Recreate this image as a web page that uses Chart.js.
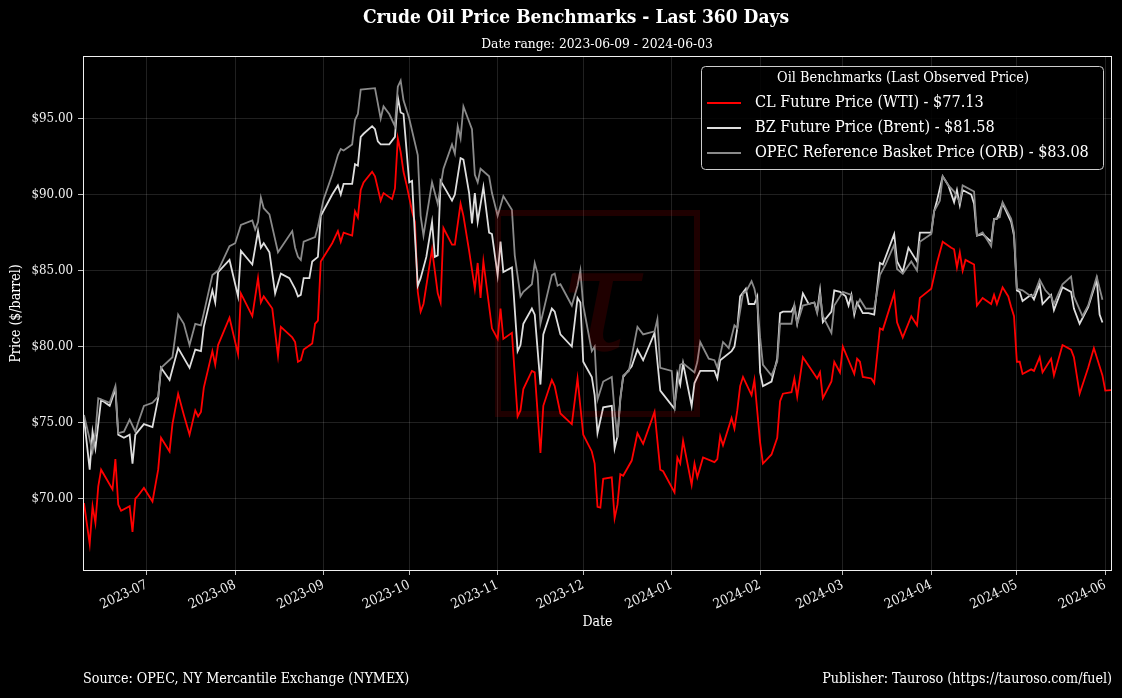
<!DOCTYPE html>
<html>
<head>
<meta charset="utf-8">
<title>Crude Oil Price Benchmarks</title>
<script src="https://cdn.jsdelivr.net/npm/chart.js@4.4.1/dist/chart.umd.min.js"></script>
<style>
  html, body { margin: 0; padding: 0; background: #000; }
  #wrap { width: 1122px; height: 698px; }
</style>
</head>
<body>
<div id="wrap"><canvas id="oilChart" width="1122" height="698"></canvas></div>
<script>
// Chart data
const startDate = '2023-06-09';
const endDate = '2024-06-03';
const xTickLabels = ['2023-07', '2023-08', '2023-09', '2023-10', '2023-11', '2023-12',
                     '2024-01', '2024-02', '2024-03', '2024-04', '2024-05', '2024-06'];
const yTicks = [70, 75, 80, 85, 90, 95];

// WTI (CL) settle prices, [date, $/barrel]
const clSeries = [
    ['2023-06-09', 69.7], ['2023-06-11', 67.0], ['2023-06-12', 69.5], ['2023-06-13', 68.4], ['2023-06-14', 70.8],
    ['2023-06-15', 71.9], ['2023-06-19', 70.6], ['2023-06-20', 72.6], ['2023-06-21', 69.6], ['2023-06-22', 69.2],
    ['2023-06-25', 69.5], ['2023-06-26', 67.8], ['2023-06-27', 70.0], ['2023-06-28', 70.2], ['2023-06-30', 70.7],
    ['2023-07-03', 69.8], ['2023-07-05', 71.9], ['2023-07-06', 74.0], ['2023-07-09', 73.1], ['2023-07-10', 74.9],
    ['2023-07-12', 76.9], ['2023-07-14', 75.5], ['2023-07-16', 74.2], ['2023-07-18', 75.8], ['2023-07-19', 75.4],
    ['2023-07-20', 75.7], ['2023-07-21', 77.3], ['2023-07-24', 79.7], ['2023-07-25', 78.8], ['2023-07-26', 80.1],
    ['2023-07-30', 81.9], ['2023-08-02', 79.5], ['2023-08-03', 83.5], ['2023-08-07', 82.0], ['2023-08-09', 84.5],
    ['2023-08-10', 82.9], ['2023-08-11', 83.3], ['2023-08-14', 82.5], ['2023-08-16', 79.4], ['2023-08-17', 81.3],
    ['2023-08-21', 80.6], ['2023-08-22', 80.3], ['2023-08-23', 79.0], ['2023-08-24', 79.1], ['2023-08-25', 79.8],
    ['2023-08-28', 80.2], ['2023-08-29', 81.5], ['2023-08-30', 81.7], ['2023-08-31', 85.6], ['2023-09-04', 86.8],
    ['2023-09-06', 87.6], ['2023-09-07', 86.9], ['2023-09-08', 87.5], ['2023-09-11', 87.3], ['2023-09-12', 88.9],
    ['2023-09-13', 88.5], ['2023-09-14', 90.3], ['2023-09-15', 90.8], ['2023-09-18', 91.5], ['2023-09-19', 91.2],
    ['2023-09-21', 89.6], ['2023-09-22', 90.1], ['2023-09-25', 89.7], ['2023-09-26', 90.4], ['2023-09-27', 93.7],
    ['2023-09-28', 92.8], ['2023-09-29', 91.5], ['2023-09-30', 90.7], ['2023-10-02', 88.9], ['2023-10-03', 88.2],
    ['2023-10-04', 83.6], ['2023-10-05', 82.3], ['2023-10-06', 82.8], ['2023-10-09', 86.4], ['2023-10-11', 83.5],
    ['2023-10-12', 82.9], ['2023-10-13', 87.8], ['2023-10-16', 86.7], ['2023-10-17', 86.7], ['2023-10-19', 89.4],
    ['2023-10-20', 88.6], ['2023-10-22', 86.3], ['2023-10-24', 83.8], ['2023-10-25', 85.5], ['2023-10-26', 83.2],
    ['2023-10-27', 85.6], ['2023-10-30', 81.2], ['2023-11-01', 80.5], ['2023-11-02', 82.5], ['2023-11-03', 80.5],
    ['2023-11-06', 80.9], ['2023-11-08', 75.4], ['2023-11-09', 75.8], ['2023-11-10', 77.2], ['2023-11-13', 78.4],
    ['2023-11-14', 78.3], ['2023-11-16', 73.0], ['2023-11-17', 76.1], ['2023-11-20', 77.8], ['2023-11-21', 77.4],
    ['2023-11-23', 75.6], ['2023-11-27', 74.9], ['2023-11-29', 77.9], ['2023-12-01', 74.2], ['2023-12-04', 73.1],
    ['2023-12-05', 72.3], ['2023-12-06', 69.45], ['2023-12-07', 69.4], ['2023-12-08', 71.3], ['2023-12-11', 71.4],
    ['2023-12-12', 68.7], ['2023-12-13', 69.6], ['2023-12-14', 71.6], ['2023-12-15', 71.5], ['2023-12-18', 72.5],
    ['2023-12-20', 74.3], ['2023-12-22', 73.6], ['2023-12-26', 75.7], ['2023-12-28', 71.9], ['2023-12-29', 71.8],
    ['2024-01-02', 70.4], ['2024-01-03', 72.7], ['2024-01-04', 72.3], ['2024-01-05', 73.8], ['2024-01-08', 70.9],
    ['2024-01-09', 72.3], ['2024-01-10', 71.4], ['2024-01-12', 72.7], ['2024-01-16', 72.4], ['2024-01-17', 72.6],
    ['2024-01-18', 74.1], ['2024-01-19', 73.5], ['2024-01-22', 75.3], ['2024-01-23', 74.6], ['2024-01-24', 75.8],
    ['2024-01-25', 77.4], ['2024-01-26', 78.0], ['2024-01-29', 76.8], ['2024-01-30', 77.8], ['2024-02-01', 73.7],
    ['2024-02-02', 72.3], ['2024-02-05', 72.9], ['2024-02-07', 74.0], ['2024-02-08', 76.4], ['2024-02-09', 76.9],
    ['2024-02-12', 77.0], ['2024-02-13', 77.9], ['2024-02-14', 76.7], ['2024-02-16', 79.3], ['2024-02-21', 77.9],
    ['2024-02-22', 78.3], ['2024-02-23', 76.6], ['2024-02-26', 77.7], ['2024-02-27', 79.0], ['2024-02-29', 78.3],
    ['2024-03-01', 80.0], ['2024-03-03', 79.1], ['2024-03-05', 78.2], ['2024-03-06', 79.2], ['2024-03-07', 79.0],
    ['2024-03-08', 78.0], ['2024-03-11', 77.9], ['2024-03-12', 77.6], ['2024-03-14', 81.2], ['2024-03-15', 81.1],
    ['2024-03-19', 83.5], ['2024-03-20', 81.6], ['2024-03-22', 80.6], ['2024-03-25', 82.0], ['2024-03-27', 81.4],
    ['2024-03-28', 83.2], ['2024-04-01', 83.8], ['2024-04-03', 85.5], ['2024-04-05', 86.9], ['2024-04-08', 86.5],
    ['2024-04-09', 86.4], ['2024-04-10', 85.2], ['2024-04-11', 86.2], ['2024-04-12', 85.0], ['2024-04-13', 85.7],
    ['2024-04-16', 85.4], ['2024-04-17', 82.7], ['2024-04-19', 83.2], ['2024-04-22', 82.8], ['2024-04-23', 83.4],
    ['2024-04-24', 82.8], ['2024-04-26', 83.9], ['2024-04-28', 83.3], ['2024-04-29', 82.6], ['2024-04-30', 82.0],
    ['2024-05-01', 79.0], ['2024-05-02', 79.0], ['2024-05-03', 78.2], ['2024-05-06', 78.5], ['2024-05-07', 78.4],
    ['2024-05-09', 79.3], ['2024-05-10', 78.3], ['2024-05-13', 79.2], ['2024-05-14', 78.1], ['2024-05-17', 80.1],
    ['2024-05-20', 79.8], ['2024-05-21', 79.3], ['2024-05-23', 76.9], ['2024-05-26', 78.6], ['2024-05-28', 79.9],
    ['2024-05-31', 78.1], ['2024-06-01', 77.1], ['2024-06-03', 77.13]
];

// Brent (BZ) settle prices
const bzSeries = [
    ['2023-06-09', 75.3], ['2023-06-11', 71.9], ['2023-06-12', 74.4], ['2023-06-13', 73.3], ['2023-06-14', 74.9],
    ['2023-06-15', 76.5], ['2023-06-18', 76.1], ['2023-06-20', 77.2], ['2023-06-21', 74.2], ['2023-06-23', 74.0],
    ['2023-06-25', 74.2], ['2023-06-26', 72.3], ['2023-06-27', 74.2], ['2023-06-30', 74.9], ['2023-07-03', 74.7],
    ['2023-07-05', 76.6], ['2023-07-06', 78.6], ['2023-07-09', 77.8], ['2023-07-12', 79.9], ['2023-07-16', 78.6],
    ['2023-07-18', 79.8], ['2023-07-20', 79.7], ['2023-07-21', 81.3], ['2023-07-24', 83.7], ['2023-07-25', 82.9],
    ['2023-07-26', 84.9], ['2023-07-30', 85.7], ['2023-08-02', 83.3], ['2023-08-03', 86.3], ['2023-08-07', 85.4],
    ['2023-08-09', 87.6], ['2023-08-10', 86.5], ['2023-08-11', 86.8], ['2023-08-13', 86.2], ['2023-08-15', 83.5],
    ['2023-08-17', 84.8], ['2023-08-20', 84.5], ['2023-08-22', 83.8], ['2023-08-23', 83.3], ['2023-08-24', 83.4],
    ['2023-08-25', 84.5], ['2023-08-27', 84.5], ['2023-08-28', 85.6], ['2023-08-30', 85.9], ['2023-08-31', 88.6],
    ['2023-09-04', 90.0], ['2023-09-06', 90.6], ['2023-09-07', 90.0], ['2023-09-08', 90.7], ['2023-09-11', 90.7],
    ['2023-09-12', 92.0], ['2023-09-13', 91.9], ['2023-09-14', 93.8], ['2023-09-15', 94.0], ['2023-09-18', 94.5],
    ['2023-09-19', 94.3], ['2023-09-20', 93.5], ['2023-09-21', 93.3], ['2023-09-24', 93.3], ['2023-09-26', 93.8],
    ['2023-09-27', 96.4], ['2023-09-28', 95.4], ['2023-09-29', 95.3], ['2023-10-01', 90.8], ['2023-10-02', 90.9],
    ['2023-10-03', 87.3], ['2023-10-04', 84.0], ['2023-10-05', 84.5], ['2023-10-07', 85.9], ['2023-10-09', 88.2],
    ['2023-10-10', 85.9], ['2023-10-11', 86.0], ['2023-10-12', 90.9], ['2023-10-16', 89.6], ['2023-10-17', 90.0],
    ['2023-10-19', 92.4], ['2023-10-20', 92.3], ['2023-10-22', 90.1], ['2023-10-23', 88.1], ['2023-10-24', 90.1],
    ['2023-10-25', 88.2], ['2023-10-27', 90.5], ['2023-10-29', 87.5], ['2023-10-30', 87.4], ['2023-11-01', 84.7],
    ['2023-11-02', 86.9], ['2023-11-03', 84.9], ['2023-11-06', 85.2], ['2023-11-08', 79.7], ['2023-11-09', 80.1],
    ['2023-11-10', 81.5], ['2023-11-13', 82.5], ['2023-11-14', 82.1], ['2023-11-16', 77.5], ['2023-11-17', 80.8],
    ['2023-11-20', 82.5], ['2023-11-21', 82.3], ['2023-11-23', 80.8], ['2023-11-27', 80.0], ['2023-11-29', 83.2],
    ['2023-11-30', 82.9], ['2023-12-01', 79.0], ['2023-12-04', 78.0], ['2023-12-05', 76.8], ['2023-12-06', 74.3],
    ['2023-12-08', 76.0], ['2023-12-11', 76.1], ['2023-12-12', 73.3], ['2023-12-13', 74.1], ['2023-12-14', 76.6],
    ['2023-12-15', 78.0], ['2023-12-18', 78.7], ['2023-12-20', 79.8], ['2023-12-22', 79.1], ['2023-12-26', 80.9],
    ['2023-12-28', 77.1], ['2024-01-02', 75.9], ['2024-01-03', 78.2], ['2024-01-04', 77.5], ['2024-01-05', 78.9],
    ['2024-01-08', 76.1], ['2024-01-09', 77.6], ['2024-01-11', 78.4], ['2024-01-16', 78.4], ['2024-01-17', 77.9],
    ['2024-01-18', 79.1], ['2024-01-22', 79.7], ['2024-01-23', 80.0], ['2024-01-24', 81.2], ['2024-01-25', 83.3],
    ['2024-01-27', 83.8], ['2024-01-28', 82.8], ['2024-01-30', 82.8], ['2024-01-31', 83.3], ['2024-02-01', 78.3],
    ['2024-02-02', 77.4], ['2024-02-05', 77.7], ['2024-02-07', 79.2], ['2024-02-08', 82.2], ['2024-02-09', 82.3],
    ['2024-02-12', 82.3], ['2024-02-13', 82.7], ['2024-02-14', 81.5], ['2024-02-16', 83.5], ['2024-02-18', 82.8],
    ['2024-02-20', 82.9], ['2024-02-21', 82.3], ['2024-02-22', 83.7], ['2024-02-23', 81.6], ['2024-02-26', 82.3],
    ['2024-02-27', 83.7], ['2024-02-29', 83.6], ['2024-03-02', 83.3], ['2024-03-03', 82.7], ['2024-03-04', 83.4],
    ['2024-03-05', 82.1], ['2024-03-06', 82.9], ['2024-03-08', 82.2], ['2024-03-10', 82.2], ['2024-03-12', 82.1],
    ['2024-03-13', 83.8], ['2024-03-14', 85.5], ['2024-03-15', 85.4], ['2024-03-19', 87.4], ['2024-03-20', 85.6],
    ['2024-03-22', 84.9], ['2024-03-24', 86.5], ['2024-03-26', 85.9], ['2024-03-27', 85.6], ['2024-03-28', 87.5],
    ['2024-04-01', 87.5], ['2024-04-02', 88.9], ['2024-04-03', 89.6], ['2024-04-05', 91.2], ['2024-04-07', 90.6],
    ['2024-04-09', 89.5], ['2024-04-10', 90.3], ['2024-04-11', 89.3], ['2024-04-12', 90.3], ['2024-04-15', 90.0],
    ['2024-04-16', 89.4], ['2024-04-17', 87.3], ['2024-04-19', 87.4], ['2024-04-22', 86.9], ['2024-04-23', 88.4],
    ['2024-04-24', 88.4], ['2024-04-26', 89.4], ['2024-04-29', 88.2], ['2024-04-30', 87.3], ['2024-05-01', 83.7],
    ['2024-05-02', 83.6], ['2024-05-03', 83.0], ['2024-05-06', 83.4], ['2024-05-07', 83.1], ['2024-05-09', 84.1],
    ['2024-05-10', 82.8], ['2024-05-13', 83.4], ['2024-05-14', 82.4], ['2024-05-17', 83.9], ['2024-05-20', 83.6],
    ['2024-05-21', 82.5], ['2024-05-23', 81.5], ['2024-05-26', 82.6], ['2024-05-29', 84.4], ['2024-05-30', 82.1],
    ['2024-05-31', 81.58]
];

// OPEC Reference Basket (ORB)
const orbSeries = [
    ['2023-06-09', 75.5], ['2023-06-12', 73.1], ['2023-06-13', 74.3], ['2023-06-14', 76.6], ['2023-06-18', 76.3],
    ['2023-06-20', 77.4], ['2023-06-21', 74.3], ['2023-06-23', 74.4], ['2023-06-25', 75.2], ['2023-06-27', 74.4],
    ['2023-06-28', 75.0], ['2023-06-30', 76.1], ['2023-07-03', 76.3], ['2023-07-05', 76.7], ['2023-07-06', 78.6],
    ['2023-07-10', 79.3], ['2023-07-12', 82.1], ['2023-07-14', 81.5], ['2023-07-16', 80.1], ['2023-07-18', 81.5],
    ['2023-07-20', 81.4], ['2023-07-21', 82.2], ['2023-07-24', 84.7], ['2023-07-26', 85.0], ['2023-07-30', 86.6],
    ['2023-08-01', 86.8], ['2023-08-03', 88.0], ['2023-08-07', 88.3], ['2023-08-08', 87.7], ['2023-08-09', 88.2],
    ['2023-08-10', 89.8], ['2023-08-11', 89.1], ['2023-08-13', 88.7], ['2023-08-16', 86.2], ['2023-08-21', 87.6],
    ['2023-08-22', 86.5], ['2023-08-23', 85.9], ['2023-08-24', 85.7], ['2023-08-25', 86.9], ['2023-08-29', 87.2],
    ['2023-08-30', 87.9], ['2023-09-01', 89.7], ['2023-09-04', 91.3], ['2023-09-06', 92.6], ['2023-09-07', 93.0],
    ['2023-09-08', 92.9], ['2023-09-11', 93.3], ['2023-09-12', 94.9], ['2023-09-13', 95.3], ['2023-09-14', 96.9],
    ['2023-09-19', 97.0], ['2023-09-21', 95.0], ['2023-09-22', 95.8], ['2023-09-24', 95.3], ['2023-09-26', 94.5],
    ['2023-09-27', 97.1], ['2023-09-28', 97.5], ['2023-09-29', 96.2], ['2023-10-01', 95.0], ['2023-10-04', 92.6],
    ['2023-10-05', 88.6], ['2023-10-06', 87.3], ['2023-10-09', 90.8], ['2023-10-11', 89.4], ['2023-10-13', 91.7],
    ['2023-10-16', 93.3], ['2023-10-17', 92.7], ['2023-10-18', 94.5], ['2023-10-19', 93.7], ['2023-10-20', 95.8],
    ['2023-10-23', 94.3], ['2023-10-24', 91.3], ['2023-10-25', 90.8], ['2023-10-26', 91.7], ['2023-10-29', 91.2],
    ['2023-10-30', 90.1], ['2023-11-01', 88.6], ['2023-11-03', 89.9], ['2023-11-06', 89.0], ['2023-11-07', 86.0],
    ['2023-11-09', 83.3], ['2023-11-10', 83.6], ['2023-11-13', 84.1], ['2023-11-14', 85.5], ['2023-11-15', 84.8],
    ['2023-11-16', 81.5], ['2023-11-20', 84.7], ['2023-11-21', 84.8], ['2023-11-22', 84.0], ['2023-11-23', 84.1],
    ['2023-11-27', 82.7], ['2023-11-29', 84.0], ['2023-11-30', 85.0], ['2023-12-01', 82.7], ['2023-12-04', 79.7],
    ['2023-12-05', 80.0], ['2023-12-06', 76.5], ['2023-12-08', 77.7], ['2023-12-11', 78.0], ['2023-12-12', 75.7],
    ['2023-12-13', 74.0], ['2023-12-14', 76.5], ['2023-12-15', 78.1], ['2023-12-17', 78.4], ['2023-12-20', 81.3],
    ['2023-12-22', 80.8], ['2023-12-26', 81.0], ['2023-12-27', 81.8], ['2023-12-28', 78.6], ['2024-01-01', 78.4],
    ['2024-01-02', 76.1], ['2024-01-04', 78.8], ['2024-01-05', 78.9], ['2024-01-09', 78.3], ['2024-01-10', 79.0],
    ['2024-01-11', 80.3], ['2024-01-14', 79.2], ['2024-01-16', 79.1], ['2024-01-17', 78.6], ['2024-01-19', 80.3],
    ['2024-01-21', 79.9], ['2024-01-23', 81.4], ['2024-01-24', 81.2], ['2024-01-26', 83.5], ['2024-01-27', 83.6],
    ['2024-01-29', 84.3], ['2024-01-30', 83.8], ['2024-01-31', 82.9], ['2024-02-01', 80.6], ['2024-02-02', 78.8],
    ['2024-02-05', 78.1], ['2024-02-07', 79.0], ['2024-02-08', 81.5], ['2024-02-12', 81.5], ['2024-02-13', 82.7],
    ['2024-02-14', 81.5], ['2024-02-16', 82.7], ['2024-02-20', 82.9], ['2024-02-21', 82.2], ['2024-02-22', 83.4],
    ['2024-02-23', 82.0], ['2024-02-26', 80.9], ['2024-02-27', 82.7], ['2024-03-01', 83.6], ['2024-03-04', 83.4],
    ['2024-03-05', 82.3], ['2024-03-07', 83.1], ['2024-03-09', 82.5], ['2024-03-12', 82.5], ['2024-03-14', 84.7],
    ['2024-03-16', 85.4], ['2024-03-19', 86.7], ['2024-03-20', 85.1], ['2024-03-22', 84.8], ['2024-03-25', 85.6],
    ['2024-03-27', 85.0], ['2024-03-28', 86.9], ['2024-04-01', 87.4], ['2024-04-02', 88.9], ['2024-04-04', 89.6],
    ['2024-04-05', 91.2], ['2024-04-07', 90.6], ['2024-04-09', 90.2], ['2024-04-11', 89.5], ['2024-04-12', 90.6],
    ['2024-04-16', 90.2], ['2024-04-17', 87.3], ['2024-04-19', 87.5], ['2024-04-22', 86.6], ['2024-04-23', 88.4],
    ['2024-04-25', 88.5], ['2024-04-26', 89.5], ['2024-04-29', 88.4], ['2024-04-30', 87.5], ['2024-05-01', 83.8],
    ['2024-05-03', 83.7], ['2024-05-06', 83.3], ['2024-05-07', 83.4], ['2024-05-09', 84.4], ['2024-05-11', 83.7],
    ['2024-05-13', 83.3], ['2024-05-14', 82.8], ['2024-05-17', 84.1], ['2024-05-20', 84.6], ['2024-05-21', 83.3],
    ['2024-05-24', 82.0], ['2024-05-26', 82.7], ['2024-05-29', 84.6], ['2024-05-31', 83.08]
];

const seriesNames = ['CL Future Price (WTI)', 'BZ Future Price (Brent)', 'OPEC Reference Basket Price (ORB)'];
const seriesColors = ['#ff0000', '#dedede', '#8a8a8a'];

document.addEventListener('DOMContentLoaded', () => {
    const FONT = "'DejaVu Serif Condensed', 'DejaVu Serif', serif";
    const toXY = series => series.map(([d, v]) => ({ x: Date.parse(d), y: v }));
    const allSeries = [clSeries, bzSeries, orbSeries];

    // Titles, legend, frame, footer and watermark drawn straight on the canvas
    const decorations = {
        id: 'decorations',
        afterDatasetsDraw(chart) {
            const ctx = chart.ctx;
            ctx.save();
            ctx.strokeStyle = 'rgba(255, 0, 0, 0.12)';
            ctx.fillStyle = 'rgba(255, 0, 0, 0.12)';
            ctx.lineWidth = 6;
            ctx.strokeRect(498, 213, 199, 201);
            ctx.font = "italic 150px 'DejaVu Serif', serif";
            ctx.textAlign = 'center';
            ctx.textBaseline = 'middle';
            ctx.fillText('\u03c4', 600, 312);
            ctx.restore();
        },
        afterDraw(chart) {
            const { ctx, chartArea } = chart;
            ctx.save();

            // axes frame
            ctx.strokeStyle = '#f0f0f0';
            ctx.lineWidth = 1;
            ctx.strokeRect(chartArea.left - 0.5, chartArea.top - 0.5,
                chartArea.right - chartArea.left + 1, chartArea.bottom - chartArea.top + 1);

            ctx.fillStyle = '#ffffff';
            ctx.textAlign = 'center';
            ctx.textBaseline = 'middle';
            ctx.font = `bold 19px ${FONT}`;
            ctx.fillText('Crude Oil Price Benchmarks - Last 360 Days', 576, 18);
            ctx.font = `13.7px ${FONT}`;
            ctx.fillText(`Date range: ${startDate} - ${endDate}`, 597, 44);

            // axis titles
            ctx.font = `14px ${FONT}`;
            ctx.fillText('Date', (chartArea.left + chartArea.right) / 2, 622);
            ctx.save();
            ctx.translate(16, (chartArea.top + chartArea.bottom) / 2);
            ctx.rotate(-Math.PI / 2);
            ctx.fillText('Price ($/barrel)', 0, 0);
            ctx.restore();

            // footer
            ctx.font = `14.2px ${FONT}`;
            ctx.textAlign = 'left';
            ctx.fillText('Source: OPEC, NY Mercantile Exchange (NYMEX)', 83, 679);
            ctx.textAlign = 'right';
            ctx.fillText('Publisher: Tauroso (https://tauroso.com/fuel)', 1112, 679);

            // legend box
            const lx = 701.5, ly = 66.5, lw = 402, lh = 103;
            ctx.beginPath();
            ctx.roundRect(lx, ly, lw, lh, 4);
            ctx.fillStyle = 'rgba(0, 0, 0, 0.85)';
            ctx.fill();
            ctx.strokeStyle = '#cccccc';
            ctx.lineWidth = 1;
            ctx.stroke();

            ctx.fillStyle = '#ffffff';
            ctx.textAlign = 'center';
            ctx.font = `14.4px ${FONT}`;
            ctx.fillText('Oil Benchmarks (Last Observed Price)', 903, 78);
            ctx.textAlign = 'left';
            ctx.font = `16.1px ${FONT}`;
            seriesNames.forEach((name, i) => {
                const y = 103 + i * 25;
                const series = allSeries[i];
                const last = series[series.length - 1][1];
                ctx.strokeStyle = seriesColors[i];
                ctx.lineWidth = 2;
                ctx.beginPath();
                ctx.moveTo(707, y);
                ctx.lineTo(741, y);
                ctx.stroke();
                ctx.fillStyle = '#ffffff';
                ctx.fillText(`${name} - $${last.toFixed(2)}`, 755, y);
            });
            ctx.restore();
        }
    };

    const ctx = document.getElementById('oilChart').getContext('2d');
    new Chart(ctx, {
        type: 'line',
        data: {
            datasets: allSeries.map((series, i) => ({
                label: seriesNames[i],
                data: toXY(series),
                borderColor: seriesColors[i],
                backgroundColor: seriesColors[i],
                borderWidth: 1.8,
                pointRadius: 0,
                tension: 0,
                order: 2 - i
            }))
        },
        options: {
            responsive: false,
            animation: false,
            devicePixelRatio: 1,
            layout: { padding: { top: 57, right: 11, bottom: 0, left: 0 } },
            plugins: {
                legend: { display: false },
                title: { display: false },
                tooltip: { enabled: false }
            },
            scales: {
                x: {
                    type: 'linear',
                    min: Date.parse(startDate),
                    max: Date.parse(endDate),
                    afterBuildTicks: scale => {
                        scale.ticks = xTickLabels.map(l => ({ value: Date.parse(l + '-01') }));
                    },
                    afterFit: scale => { scale.height = 128; },
                    ticks: {
                        autoSkip: false,
                        minRotation: 25,
                        maxRotation: 25,
                        padding: 2,
                        color: '#f0f0f0',
                        font: { family: FONT, size: 13.5 },
                        callback: (value, index) => xTickLabels[index]
                    },
                    grid: { color: 'rgba(255,255,255,0.16)', lineWidth: 0.8, tickColor: '#f0f0f0', tickLength: 5 },
                    border: { display: false }
                },
                y: {
                    min: 65.3,
                    max: 99.05,
                    afterBuildTicks: scale => {
                        scale.ticks = yTicks.map(v => ({ value: v }));
                    },
                    afterFit: scale => { scale.width = 84; },
                    ticks: {
                        padding: 5,
                        color: '#f0f0f0',
                        font: { family: FONT, size: 13.2 },
                        callback: value => '$' + Number(value).toFixed(2)
                    },
                    grid: { color: 'rgba(255,255,255,0.16)', lineWidth: 0.8, tickColor: '#f0f0f0', tickLength: 6 },
                    border: { display: false }
                }
            }
        },
        plugins: [decorations]
    });
});
</script>
</body>
</html>
